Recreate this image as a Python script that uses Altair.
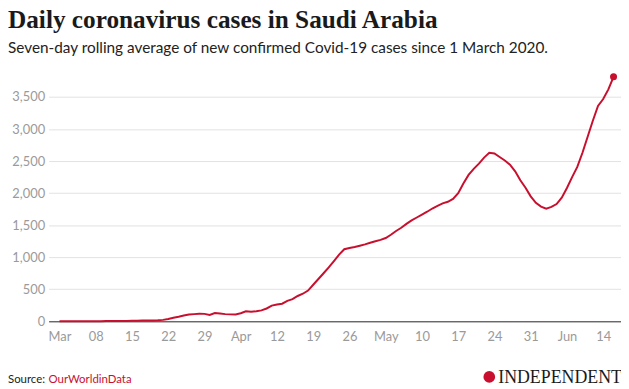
import altair as alt
import pandas as pd

start_date = "2020-03-01"
cases = [
    0, 0, 0, 0, 1, 1, 1, 2, 2, 3,
    3, 4, 5, 6, 8, 10, 11, 12, 14, 16,
    22, 35, 55, 70, 90, 105, 112, 118, 116, 100,
    128, 120, 112, 108, 106, 125, 155, 150, 158, 170,
    200, 245, 262, 275, 320, 345, 395, 430, 480, 570,
    660, 750, 840, 940, 1040, 1125, 1145, 1160, 1180, 1200,
    1225, 1250, 1270, 1300, 1350, 1410, 1460, 1520, 1575, 1620,
    1665, 1710, 1760, 1800, 1840, 1865, 1910, 2000, 2150, 2285,
    2380, 2460, 2555, 2630, 2620, 2565, 2510, 2445, 2340, 2200,
    2085, 1950, 1850, 1790, 1758, 1785, 1830, 1930, 2080, 2250,
    2410, 2630, 2880, 3130, 3360, 3470, 3620, 3815,
]
dates = pd.date_range(start_date, periods=len(cases), freq="D").strftime("%Y-%m-%d").tolist()
y_ticks = [0, 500, 1000, 1500, 2000, 2500, 3000, 3500]
x_tick_dates = [
    "2020-03-01", "2020-03-08", "2020-03-15", "2020-03-22", "2020-03-29",
    "2020-04-05", "2020-04-12", "2020-04-19", "2020-04-26", "2020-05-03",
    "2020-05-10", "2020-05-17", "2020-05-24", "2020-05-31", "2020-06-07",
    "2020-06-14",
]

title_text = "Daily coronavirus cases in Saudi Arabia"
subtitle_text = "Seven-day rolling average of new confirmed Covid-19 cases since 1 March 2020."
source_label = "Source:"
source_name = "OurWorldinData"
logo_text = "INDEPENDENT"

df = pd.DataFrame({"date": dates, "cases": cases})
last = df.tail(1)

RED = "#c8102e"
W, H = 578, 258.8


def dt(s, hours=0, minutes=0):
    d = pd.Timestamp(s)
    return alt.DateTime(year=d.year, month=d.month, date=d.day, hours=hours,
                        minutes=minutes, utc=True)


x_enc = alt.X(
    "date:T",
    scale=alt.Scale(type="utc", domain=[dt("2020-02-27", 21, 30), dt("2020-06-17", 10, 34)]),
    axis=alt.Axis(
        values=[dt(s) for s in x_tick_dates],
        labelExpr="utcdate(datum.value) <= 7 ? utcFormat(datum.value, '%b') : utcFormat(datum.value, '%d')",
        title=None,
        grid=False,
        ticks=False,
        domain=True,
        domainColor="#333333",
        domainWidth=1,
        labelColor="#9a9a9a",
        labelFont="Lato",
        labelFontSize=13,
        labelPadding=9,
        labelFlush=False,
        labelOverlap=False,
    ),
)
y_enc = alt.Y(
    "cases:Q",
    scale=alt.Scale(domain=[0, 4000], nice=False),
    axis=alt.Axis(
        values=y_ticks,
        format=",d",
        title=None,
        grid=True,
        gridColor="#e2e2e2",
        gridWidth=1,
        ticks=False,
        domain=False,
        labelColor="#9a9a9a",
        labelFont="Lato",
        labelFontSize=13,
        labelPadding=4,
        labelOverlap=False,
    ),
)

line = alt.Chart(df).mark_line(color=RED, strokeWidth=2).encode(x=x_enc, y=y_enc)
dot = alt.Chart(last).mark_circle(color=RED, size=50, opacity=1).encode(x=x_enc, y=y_enc)

one = pd.DataFrame({"k": [0]})
title = alt.Chart(one).mark_text(
    text=title_text, font="Liberation Serif", fontWeight="bold", fontSize=25.5,
    align="left", baseline="alphabetic", color="#1a1a1a",
).encode(x=alt.value(-41), y=alt.value(-37.5))
subtitle = alt.Chart(one).mark_text(
    text=subtitle_text, font="Lato", fontSize=15.5,
    align="left", baseline="alphabetic", color="#222222",
).encode(x=alt.value(-41), y=alt.value(-12))
src1 = alt.Chart(one).mark_text(
    text=source_label, font="Lato", fontSize=11.5,
    align="left", baseline="alphabetic", color="#222222",
).encode(x=alt.value(-41), y=alt.value(321))
src2 = alt.Chart(one).mark_text(
    text=source_name, font="Lato", fontSize=11.5,
    align="left", baseline="alphabetic", color=RED,
).encode(x=alt.value(0), y=alt.value(321))
logo_dot = alt.Chart(one).mark_circle(color=RED, size=140, opacity=1).encode(
    x=alt.value(445), y=alt.value(315)
)
logo = alt.Chart(one).mark_text(
    text=logo_text, font="Liberation Serif", fontSize=18,
    align="left", baseline="alphabetic", color="#1a1a1a",
).encode(x=alt.value(454), y=alt.value(321.5))

chart = alt.layer(line, dot, title, subtitle, src1, src2, logo_dot, logo).properties(
    width=W,
    height=H,
    autosize=alt.AutoSizeParams(type="none"),
    padding={"left": 41, "top": 55.7, "right": 0, "bottom": 66},
).configure_view(stroke=None)

chart.save("out.html", embed_options={"renderer": "svg", "actions": False})
